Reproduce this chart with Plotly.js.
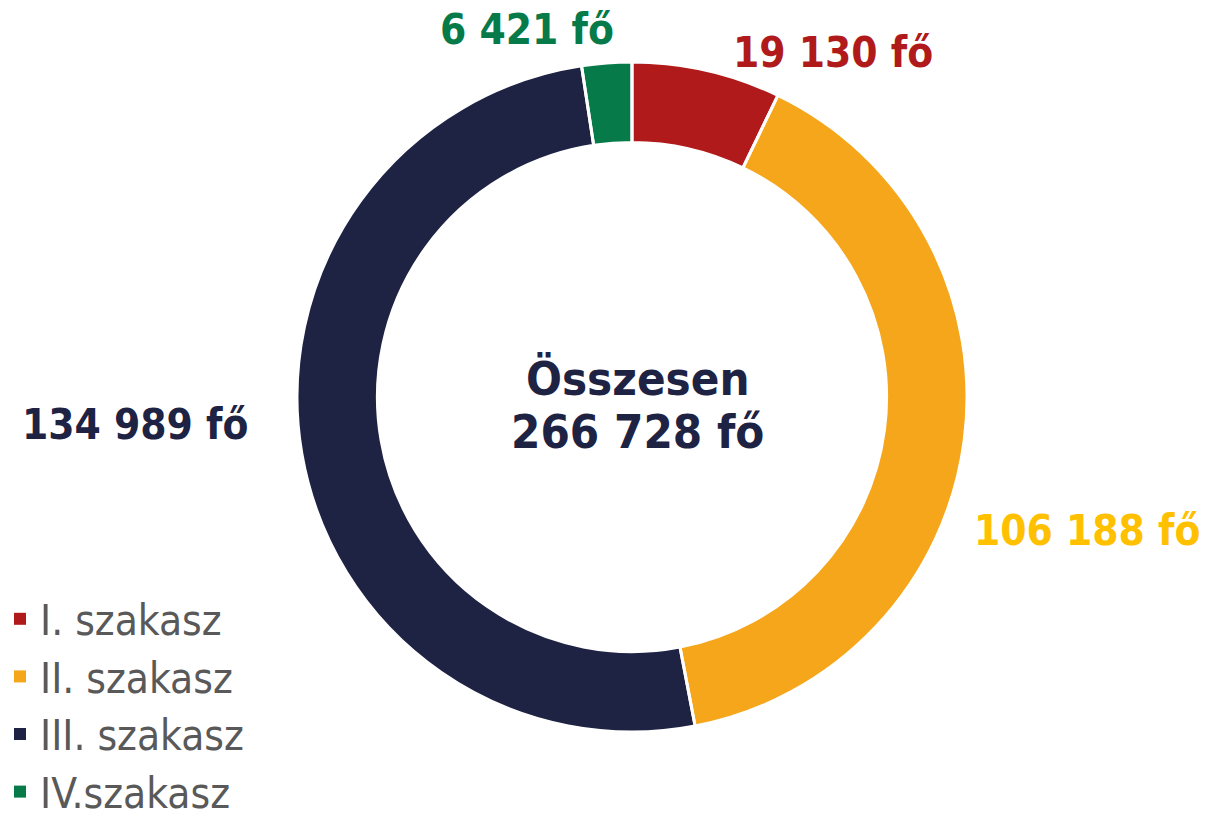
<!DOCTYPE html>
<html>
<head>
<meta charset="utf-8">
<script src="https://cdn.plot.ly/plotly-3.0.1.min.js"></script>
<style>html,body{margin:0;padding:0;background:#fff;}#chart{width:1206px;height:826px;}</style>
</head>
<body>
<div id="chart"></div>
<script>
const categories = ["I. szakasz", "II. szakasz", "III. szakasz", "IV.szakasz"];
const values = [19130, 106188, 134989, 6421];
const sliceColors = ["#B01A1A", "#F5A61A", "#1E2344", "#067A48"];
const labelColors = ["#B01A1A", "#FFC000", "#1E2344", "#067A48"];
const totalTitle = "Összesen";
const unit = "fő";

function fmt(n) { return String(n).replace(/\B(?=(\d{3})+(?!\d))/g, " ") + " " + unit; }
const total = values.reduce((a, b) => a + b, 0);

const FONT = "DejaVu Sans Condensed, DejaVu Sans, sans-serif";
// label placement (paper coords) for each slice
const labelPos = [[0.691, 0.936], [0.901, 0.358], [0.112, 0.486], [0.437, 0.964]];

const annotations = values.map((v, i) => ({
  text: "<b>" + fmt(v) + "</b>", x: labelPos[i][0], y: labelPos[i][1],
  xref: "paper", yref: "paper", showarrow: false, xanchor: "center", yanchor: "middle",
  font: { family: FONT, size: 42, color: labelColors[i] }
}));
annotations.push({
  text: "<b>" + totalTitle + "</b>", x: 0.529, y: 0.542, xref: "paper", yref: "paper",
  showarrow: false, font: { family: FONT, size: 47, color: "#1E2344" }
});
annotations.push({
  text: "<b>" + fmt(total) + "</b>", x: 0.529, y: 0.477, xref: "paper", yref: "paper",
  showarrow: false, font: { family: FONT, size: 47, color: "#1E2344" }
});

const dom = { x: [297 / 1206, 967 / 1206], y: [94 / 826, 764 / 826] };
const trace = {
  type: "pie", labels: categories, values: values, hole: 0.76, sort: false,
  direction: "clockwise", rotation: 0, textinfo: "none", hoverinfo: "label+value",
  marker: { colors: sliceColors, line: { width: 0 } },
  domain: dom
};
const borders = {
  type: "pie", labels: categories, values: values, hole: 0.76, sort: false,
  direction: "clockwise", rotation: 0, textinfo: "none", hoverinfo: "skip",
  showlegend: false,
  marker: { colors: categories.map(() => "rgba(0,0,0,0)"), line: { color: "#ffffff", width: 3 } },
  domain: dom
};

const layout = {
  width: 1206, height: 826, margin: { l: 0, r: 0, t: 0, b: 0 },
  paper_bgcolor: "#ffffff", plot_bgcolor: "#ffffff",
  showlegend: true,
  legend: { x: 0, y: 0, xanchor: "left", yanchor: "bottom", traceorder: "normal",
    font: { family: FONT, size: 42, color: "#595959" }, itemwidth: 30, tracegroupgap: 0 },
  annotations: annotations
};
Plotly.newPlot("chart", [trace, borders], layout, { displayModeBar: false, staticPlot: true });
</script>
</body>
</html>
